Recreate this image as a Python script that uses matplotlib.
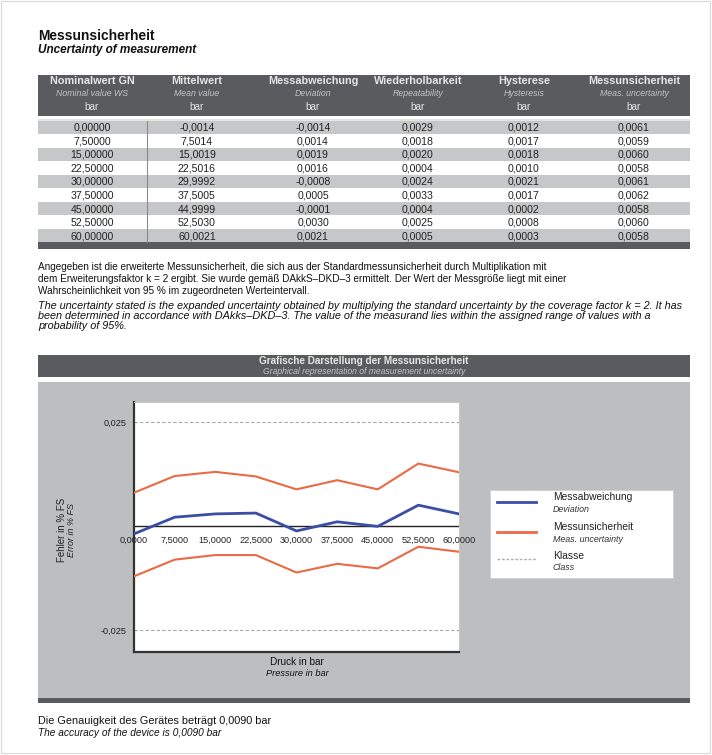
import matplotlib
matplotlib.use("Agg")
import matplotlib.pyplot as plt
from matplotlib import font_manager
from matplotlib.patches import Rectangle
from matplotlib.lines import Line2D

# ---------------- data ----------------
col_titles = ["Nominalwert GN", "Mittelwert", "Messabweichung",
              "Wiederholbarkeit", "Hysterese", "Messunsicherheit"]
col_subtitles = ["Nominal value WS", "Mean value", "Deviation",
                 "Repeatability", "Hysteresis", "Meas. uncertainty"]
col_units = ["bar", "bar", "bar", "bar", "bar", "bar"]

nominal = [0.0, 7.5, 15.0, 22.5, 30.0, 37.5, 45.0, 52.5, 60.0]
mean_value = [-0.0014, 7.5014, 15.0019, 22.5016, 29.9992, 37.5005, 44.9999, 52.5030, 60.0021]
deviation = [-0.0014, 0.0014, 0.0019, 0.0016, -0.0008, 0.0005, -0.0001, 0.0030, 0.0021]
repeatability = [0.0029, 0.0018, 0.0020, 0.0004, 0.0024, 0.0033, 0.0004, 0.0025, 0.0005]
hysteresis = [0.0012, 0.0017, 0.0018, 0.0010, 0.0021, 0.0017, 0.0002, 0.0008, 0.0003]
uncertainty = [0.0061, 0.0059, 0.0060, 0.0058, 0.0061, 0.0062, 0.0058, 0.0060, 0.0058]

# values (in % FS)
chart_deviation = [-0.0019, 0.0021, 0.0029, 0.0031, -0.0012, 0.0010, -0.0001, 0.0050, 0.0029]
chart_upper = [0.0080, 0.0120, 0.0130, 0.0119, 0.0088, 0.0110, 0.0088, 0.0150, 0.0129]
chart_lower = [-0.0121, -0.0081, -0.0070, -0.0070, -0.0112, -0.0091, -0.0102, -0.0050, -0.0062]
class_limit = 0.025

# ---------------- style ----------------
FONT = ["Liberation Sans", "DejaVu Sans"]
plt.rcParams["font.family"] = FONT
installed = {f.name for f in font_manager.fontManager.ttflist}
NARROW = ["Liberation Sans Narrow", "Liberation Sans"] if "Liberation Sans Narrow" in installed else FONT

DARK = "#5a5b5e"
ROWGRAY = "#c6c7c9"
PANEL = "#bcbec0"
HEAD_TXT = "#e6e6e6"
HEAD_SUB = "#c2c3c5"
BLUE = "#3b4ea6"
RED = "#ea6a45"

W, H = 712, 755
fig = plt.figure(figsize=(W / 100, H / 100), dpi=100)
bg = fig.add_axes([0, 0, 1, 1])
bg.set_xlim(0, W)
bg.set_ylim(H, 0)
bg.axis("off")
renderer = fig.canvas.get_renderer()


def rect(x0, y0, x1, y1, color, **kw):
    bg.add_patch(Rectangle((x0, y0), x1 - x0, y1 - y0, facecolor=color,
                           edgecolor=kw.pop("edgecolor", "none"), **kw))


def fit_size(s, width, size=8, **kw):
    t = bg.text(0, 0, s, fontsize=size, **kw)
    w = t.get_window_extent(renderer).width
    t.remove()
    return size * width / w


def fit_text(x, y, s, width, size=8, **kw):
    return bg.text(x, y, s, fontsize=fit_size(s, width, size, **kw), **kw)


# page frame
rect(1, 1, W - 2, H - 2, "none", edgecolor="#d9d9d9", linewidth=0.8)

# title
fit_text(38, 36, "Messunsicherheit", 117, size=9.5, fontweight="bold", va="center", color="#111")
fit_text(38, 50, "Uncertainty of measurement", 160, size=8, fontweight="bold",
         style="italic", va="center", color="#111")

# ---------------- table ----------------
tx0, tx1 = 38, 690
col_x = [92, 197, 313, 418, 524, 634]
rect(tx0, 75, tx1, 116, DARK)
row_top, row_h = 120.5, 13.55
for i in range(len(nominal)):
    y0 = row_top + i * row_h
    rect(tx0, y0, tx1, y0 + row_h, ROWGRAY if i % 2 == 0 else "white")
rect(tx0, 118.5, tx1, 120.5, "#e4e4e4")
rect(tx0, row_top + 9 * row_h, tx1, row_top + 9 * row_h + 6.5, DARK)
bg.plot([147, 147], [row_top, row_top + 9 * row_h], color="#8a8a8a", lw=0.8)

for cx, t1, t2, t3 in zip(col_x, col_titles, col_subtitles, col_units):
    bg.text(cx, 81.5, t1, fontsize=7.8, fontweight="bold", color=HEAD_TXT, ha="center", va="center")
    bg.text(cx, 93.5, t2, fontsize=6.3, style="italic", color=HEAD_SUB, ha="center", va="center")
    bg.text(cx, 106.5, t3, fontsize=7.2, color=HEAD_TXT, ha="center", va="center")


def fmt(v, d):
    return f"{v:.{d}f}".replace(".", ",")


columns = [(nominal, 5), (mean_value, 4), (deviation, 4),
           (repeatability, 4), (hysteresis, 4), (uncertainty, 4)]
for i in range(len(nominal)):
    yc = row_top + (i + 0.5) * row_h
    for cx, (vals, d) in zip(col_x, columns):
        bg.text(cx, yc + 0.5, fmt(vals[i], d), fontsize=7.6, color="#222",
                ha="center", va="center")

# ---------------- paragraph ----------------
de_lines = [
    "Angegeben ist die erweiterte Messunsicherheit, die sich aus der Standardmessunsicherheit durch Multiplikation mit",
    "dem Erweiterungsfaktor k = 2 ergibt. Sie wurde gemäß DAkkS–DKD–3 ermittelt. Der Wert der Messgröße liegt mit einer",
    "Wahrscheinlichkeit von 95 % im zugeordneten Werteintervall.",
]
de_size = fit_size(de_lines[0], 515, 8, family=NARROW)
for k, s in enumerate(de_lines):
    bg.text(38, 267 + 12 * k, s, fontsize=de_size, family=NARROW, va="center", color="#111")

en_lines = [
    "The uncertainty stated is the expanded uncertainty obtained by multiplying the standard uncertainty by the coverage factor k = 2. It has",
    "been determined in accordance with DAkks–DKD–3. The value of the measurand lies within the assigned range of values with a",
    "probability of 95%.",
]
en_size = fit_size(en_lines[0], 645, 6.5, family=NARROW, style="italic")
for k, s in enumerate(en_lines):
    bg.text(38, 306 + 10 * k, s, fontsize=en_size, family=NARROW, style="italic",
            va="center", color="#111")

# ---------------- chart panel ----------------
rect(38, 355, 690, 377, DARK)
rect(38, 382, 690, 698, PANEL)
rect(38, 698, 690, 703, DARK)
bg.text(364, 361, "Grafische Darstellung der Messunsicherheit", fontsize=7.2,
        fontweight="bold", color=HEAD_TXT, ha="center", va="center")
bg.text(364, 371.5, "Graphical representation of measurement uncertainty", fontsize=6.2,
        style="italic", color=HEAD_SUB, ha="center", va="center")

# axis titles
bg.text(62, 530, "Fehler in % FS", fontsize=7, rotation=90, ha="center", va="center", color="#222")
bg.text(71, 530, "Error in % FS", fontsize=6.5, style="italic", rotation=90,
        ha="center", va="center", color="#222")
bg.text(297, 662, "Druck in bar", fontsize=7.2, ha="center", va="center", color="#111")
bg.text(297, 673, "Pressure in bar", fontsize=6.7, style="italic", ha="center", va="center", color="#111")

# legend
rect(490, 490, 673, 578, "white", edgecolor="#d0d0d0", linewidth=0.6)
bg.add_line(Line2D([497, 536], [502, 502], color=BLUE, lw=2))
bg.add_line(Line2D([497, 536], [532, 532], color=RED, lw=2))
bg.add_line(Line2D([497, 536], [559, 559], color="#b0b0b0", lw=1, dashes=(2, 1.2)))
leg = [("Messabweichung", "Deviation", 497),
       ("Messunsicherheit", "Meas. uncertainty", 527),
       ("Klasse", "Class", 556)]
for t1, t2, yy in leg:
    bg.text(553, yy, t1, fontsize=7.4, ha="left", va="center", color="#222")
    bg.text(553, yy + 12, t2, fontsize=6.4, style="italic", ha="left", va="center", color="#333")

# bottom text
fit_text(38, 721, "Die Genauigkeit des Gerätes beträgt 0,0090 bar", 233, size=7.5,
         family=NARROW, va="center", color="#111")
fit_text(38, 733, "The accuracy of the device is 0,0090 bar", 181, size=6.5,
         family=NARROW, style="italic", va="center", color="#111")

# ---------------- plot ----------------
L, R, T, B = 134, 459, 402, 652
ax = fig.add_axes([L / W, 1 - B / H, (R - L) / W, (B - T) / H])
ax.set_facecolor("white")
ax.set_xlim(0, 60)
ax.set_ylim(-0.0303, 0.0298)
for side in ("top", "right"):
    ax.spines[side].set_color("#c8c8c8")
    ax.spines[side].set_linewidth(0.8)
for side in ("left", "bottom"):
    ax.spines[side].set_color("#333333")
    ax.spines[side].set_linewidth(1.6)
ax.axhline(0, color="#222", lw=1.0, zorder=2)
for yv in (class_limit, -class_limit):
    ax.axhline(yv, color="#a8a8a8", lw=0.8, dashes=(3, 2), zorder=1)
ax.plot(nominal, chart_upper, color=RED, lw=1.5, zorder=3)
ax.plot(nominal, chart_lower, color=RED, lw=1.5, zorder=3)
ax.plot(nominal, chart_deviation, color=BLUE, lw=2.0, zorder=4)
ax.set_xticks([])
ax.set_yticks([class_limit, -class_limit])
ax.set_yticklabels([fmt(class_limit, 3), fmt(-class_limit, 3)], fontsize=6.6, color="#222")
ax.tick_params(axis="y", length=0, pad=5)
for xv in nominal:
    ax.annotate(fmt(xv, 4), (xv, 0), xytext=(0, -10.5), textcoords="offset points",
                ha="center", va="center", fontsize=6.6, color="#222", zorder=5,
                annotation_clip=False)

fig.savefig("out.png", dpi=100)
